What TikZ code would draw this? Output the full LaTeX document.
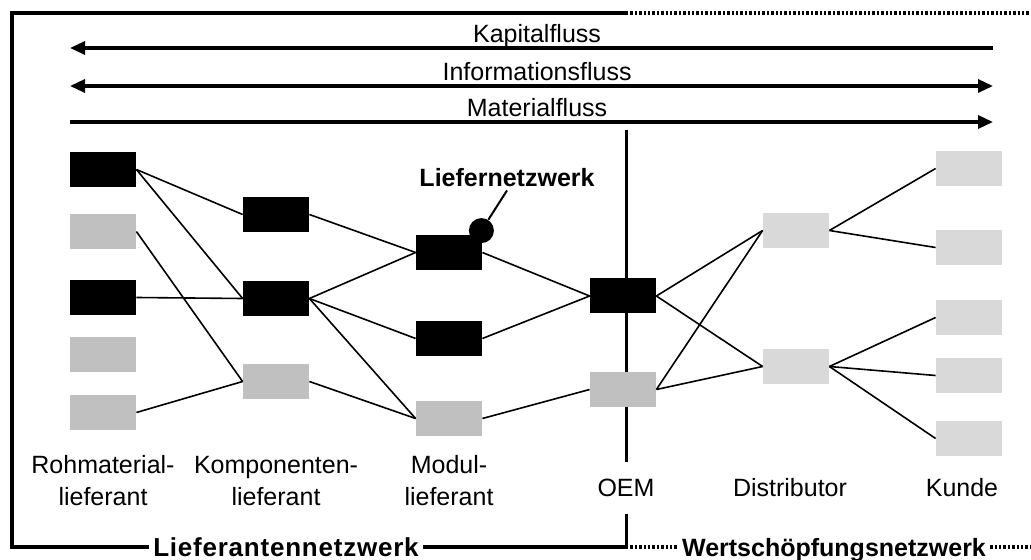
\documentclass[tikz,border=0pt]{standalone}
\usepackage{fontspec}
\setmainfont{Liberation Sans}
\usetikzlibrary{positioning,arrows.meta}
\definecolor{supplygray}{HTML}{C0C0C0}
\definecolor{customergray}{HTML}{D9D9D9}

\begin{document}
\begin{tikzpicture}[x=0.5pt, y=-0.5pt,
	box/.style={rectangle, minimum width=33pt, minimum height=17.5pt, inner sep=0pt},
	link/.style={line width=0.8pt},
	frame/.style={line width=1.7pt},
	dotline/.style={dash pattern=on 1.2pt off 1pt},
	flow/.style={line width=1.6pt},
	stage/.style={font=\fontsize{12.5}{16}\selectfont, align=center},
	netname/.style={font=\fontsize{12.5}{15}\selectfont\bfseries, inner xsep=2pt, inner ysep=0pt, text depth=0pt},
]

\useasboundingbox (0,0) rectangle (1031,560);

% Frame corners
\coordinate (frame_tl) at (12,13);
\coordinate (frame_bl) at (12,547);
\coordinate (frame_tm) at (626,13);
\coordinate (frame_bm) at (626,547);
\coordinate (frame_tr) at (1031,13);
\coordinate (frame_br) at (1031,547);
\coordinate (oem_top) at (626,130);

% Network names
\node [netname,
	font=\fontsize{13}{15}\selectfont\bfseries\addfontfeatures{LetterSpace=3}
] (lieferantennetzwerk) at (286,547) {Lieferantennetzwerk};
\node [netname] (wertschoepfungsnetzwerk) at (834,547) {Wertschöpfungsnetzwerk};

% Frame
\draw[frame] (lieferantennetzwerk.west) -- (frame_bl) -- (frame_tl) -- (frame_tm);
\draw[frame] (lieferantennetzwerk.east) -- (frame_bm);
\draw[frame, dotline] (frame_tm) -- (frame_tr);
\draw[frame, dotline] (frame_bm) -- (wertschoepfungsnetzwerk.west);
\draw[frame, dotline] (wertschoepfungsnetzwerk.east) -- (frame_br);

% Flows
\coordinate (kapital_l) at (70,48);
\coordinate (kapital_r) at (993,48);
\coordinate (information_l) at (70,86);
\coordinate (information_r) at (993,86);
\coordinate (material_l) at (70,122);
\coordinate (material_r) at (993,122);

\draw[flow, {Triangle[length=7.5pt,width=6.5pt]}-] (kapital_l) -- (kapital_r)
	node[stage, pos=0.506, anchor=base, yshift=2.5pt] {Kapitalfluss};
\draw[flow, {Triangle[length=7.5pt,width=6.5pt]}-{Triangle[length=7.5pt,width=6.5pt]}] (information_l) -- (information_r)
	node[stage, pos=0.506, anchor=base, yshift=2.5pt] {Informationsfluss};
\draw[flow, -{Triangle[length=7.5pt,width=6.5pt]}] (material_l) -- (material_r)
	node[stage, pos=0.506, anchor=base, yshift=2.5pt] {Materialfluss};

% Stage labels
\node [stage] (rohmaterial_label) at (103,481) {Rohmaterial-\\lieferant};
\node [stage] (komponente_label) at (276,481) {Komponenten-\\lieferant};
\node [stage] (modul_label) at (449,481) {Modul-\\lieferant};
\node [stage,
	minimum height=26pt,
	inner sep=0pt
] (oem_label) at (626,488) {OEM};
\node [stage] (distributor_label) at (790,488) {Distributor};
\node [stage] (kunde_label) at (962,488) {Kunde};

% OEM divider
\draw[line width=1.5pt] (oem_top) -- (oem_label.north);
\draw[line width=1.5pt] (oem_label.south) -- (frame_bm);

% Rohmaterial-Lieferanten
\node [box, fill=black] (rohmaterial_0) at (103,169.5) {};
\node [box, fill=supplygray] (rohmaterial_1) at (103,231.5) {};
\node [box, fill=black] (rohmaterial_2) at (103,297.5) {};
\node [box, fill=supplygray] (rohmaterial_3) at (103,354.5) {};
\node [box, fill=supplygray] (rohmaterial_4) at (103,412.5) {};

% Komponenten-Lieferanten
\node [box, fill=black] (komponente_0) at (276,214.5) {};
\node [box, fill=black] (komponente_1) at (276,298.5) {};
\node [box, fill=supplygray] (komponente_2) at (276,381.5) {};

% Modul-Lieferanten
\node [box, fill=black] (modul_0) at (449,252.5) {};
\node [box, fill=black] (modul_1) at (449,338.5) {};
\node [box, fill=supplygray] (modul_2) at (449,418.5) {};

% OEM
\node [box, fill=black] (oem_0) at (623,296) {};
\node [box, fill=supplygray] (oem_1) at (623,389.5) {};

% Distributoren
\node [box, fill=customergray] (distributor_0) at (796,230.5) {};
\node [box, fill=customergray] (distributor_1) at (796,366.5) {};

% Kunden
\node [box, fill=customergray] (kunde_0) at (969,168.5) {};
\node [box, fill=customergray] (kunde_1) at (969,247.5) {};
\node [box, fill=customergray] (kunde_2) at (969,317.5) {};
\node [box, fill=customergray] (kunde_3) at (969,375.5) {};
\node [box, fill=customergray] (kunde_4) at (969,438.5) {};

% Links
\draw[link] (rohmaterial_0.east) -- (komponente_0.west);
\draw[link] (rohmaterial_0.east) -- (komponente_1.west);
\draw[link] (rohmaterial_1.east) -- (komponente_2.west);
\draw[link] (rohmaterial_2.east) -- (komponente_1.west);
\draw[link] (rohmaterial_4.east) -- (komponente_2.west);
\draw[link] (komponente_0.east) -- (modul_0.west);
\draw[link] (komponente_1.east) -- (modul_0.west);
\draw[link] (komponente_1.east) -- (modul_1.west);
\draw[link] (komponente_1.east) -- (modul_2.west);
\draw[link] (komponente_2.east) -- (modul_2.west);
\draw[link] (modul_0.east) -- (oem_0.west);
\draw[link] (modul_1.east) -- (oem_0.west);
\draw[link] (modul_2.east) -- (oem_1.west);
\draw[link] (oem_0.east) -- (distributor_0.west);
\draw[link] (oem_0.east) -- (distributor_1.west);
\draw[link] (oem_1.east) -- (distributor_0.west);
\draw[link] (oem_1.east) -- (distributor_1.west);
\draw[link] (distributor_0.east) -- (kunde_0.west);
\draw[link] (distributor_0.east) -- (kunde_1.west);
\draw[link] (distributor_1.east) -- (kunde_2.west);
\draw[link] (distributor_1.east) -- (kunde_3.west);
\draw[link] (distributor_1.east) -- (kunde_4.west);

% Liefernetzwerk marker
\node [netname, inner ysep=2pt] (liefernetzwerk) at (507,177) {Liefernetzwerk};
\node [circle,
	fill=black,
	minimum size=12.5pt,
	inner sep=0pt
] (liefer_dot) at ([xshift=-0.5pt, yshift=2pt]modul_0.north east) {};
\draw[line width=1pt] (liefernetzwerk.south) -- (liefer_dot);

\end{tikzpicture}
\end{document}
